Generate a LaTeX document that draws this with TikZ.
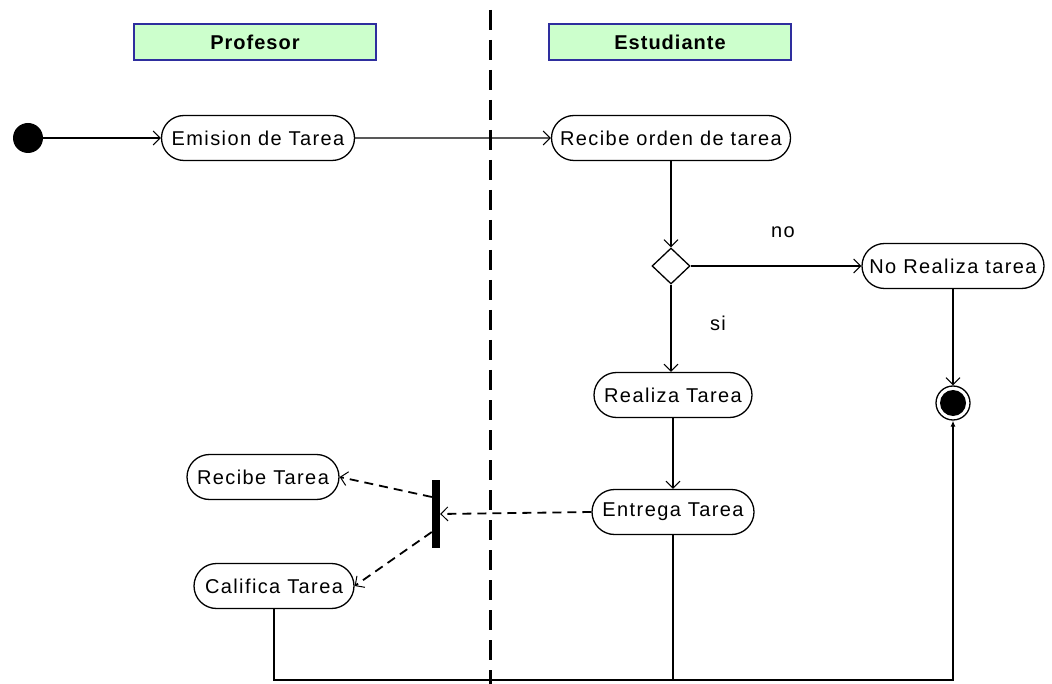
\documentclass[tikz,border=0pt]{standalone}
\usepackage{fontspec}
\setmainfont{Liberation Sans}
\newfontfamily\actfont[LetterSpace=7]{Liberation Sans}
\newfontfamily\lanefont[LetterSpace=5]{Liberation Sans}
\usetikzlibrary{arrows.meta,shapes.geometric,shapes.misc}
\definecolor{lanefill}{HTML}{CCFFCC}
\definecolor{laneline}{HTML}{2E2E9E}
\tikzset{
  x=1pt, y=-1pt,
  act/.style={draw, line width=1.3pt, rounded rectangle, minimum height=45pt,
    inner xsep=4pt, font=\actfont\fontsize{20}{22}\selectfont},
  lane/.style={draw=laneline, fill=lanefill, line width=1.3pt, minimum width=242pt,
    minimum height=36pt, font=\lanefont\bfseries\fontsize{20}{22}\selectfont},
  flow/.style={line width=1.3pt, -{Straight Barb[length=7pt,width=14pt,line width=1pt]}},
  dflow/.style={flow, line width=1.8pt, dash pattern=on 9pt off 6pt},
  guard/.style={font=\actfont\fontsize{20}{22}\selectfont},
}
\begin{document}
\begin{tikzpicture}
\useasboundingbox (0,0) rectangle (1052,684);
% swimlane separator
\draw[line width=3pt, dash pattern=on 20pt off 10pt] (490,10) -- (490,684);
% lane headers
\node[lane] (hprof) at (255,42) {Profesor};
\node[lane] (hest) at (670,42) {Estudiante};
% start and end states
\node[circle, fill=black, minimum size=30pt, inner sep=0pt] (start) at (28,138) {};
\node[circle, draw, line width=1.3pt, minimum size=34pt, inner sep=0pt] (final) at (953,403) {};
\fill (final.center) circle (13pt);
% activities
\node[act, minimum width=201pt] (emision) at (258,138) {Emision de Tarea};
\node[act, minimum width=247pt] (orden) at (671,138) {Recibe orden de tarea};
\node[draw, diamond, line width=1.3pt, minimum width=38pt, minimum height=36pt, inner sep=0pt] (dec) at (671,266) {};
\node[act, minimum width=190pt] (norealiza) at (953,266) {No Realiza tarea};
\node[act, minimum width=166pt] (realiza) at (673,395) {Realiza Tarea};
\node[act, minimum width=170pt] (entrega) at (673,512) {Entrega Tarea};
\node[fill=black, minimum width=8pt, minimum height=68pt, inner sep=0pt] (bar) at (436,514) {};
\node[act, minimum width=160pt] (recibe) at (263,477) {Recibe Tarea};
\node[act, minimum width=168pt] (califica) at (274,586) {Califica Tarea};
% guards
\node[guard] (gno) at (783,232) {no};
\node[guard] (gsi) at (718,323) {si};
% transitions
\draw[flow] (start) -- (emision);
\draw[flow] (emision) -- (orden);
\draw[flow] (orden.south) -- (dec.north);
\draw[flow] (dec.east) -- (norealiza.west);
\draw[flow] (dec.south) -- (dec.south |- realiza.north);
\draw[flow] (norealiza.south) -- (final.north);
\draw[flow] (realiza.south) -- (entrega.north);
\draw[dflow] (entrega.west) -- (bar.east);
\draw[dflow] ([yshift=17pt]bar.west) -- (recibe.east);
\draw[dflow] ([yshift=-18pt]bar.west) -- (califica.east);
\coordinate (floor) at (673,680);
\draw[line width=1.3pt] (califica.south) |- (floor);
\draw[line width=1.3pt, -{Latex[length=6pt,width=5pt]}] (entrega.south) -- (floor) -| (final.south);
\end{tikzpicture}
\end{document}
